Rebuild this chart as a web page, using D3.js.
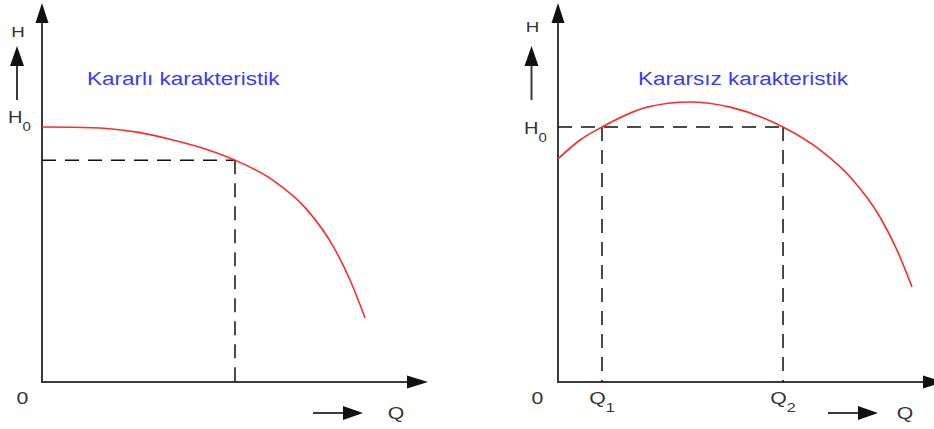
<!DOCTYPE html>
<html>
<head>
<meta charset="utf-8">
<script src="https://cdn.jsdelivr.net/npm/d3@7"></script>
<style>
  body { margin: 0; background: #fff; }
  svg { display: block; }
  text { font-family: "Liberation Sans", Arial, Helvetica, sans-serif; fill: #333; }
</style>
</head>
<body>
<svg id="chart" width="934" height="429"></svg>
<script>
// Pump head curves H(Q), in relative units (H0 = 100)
const titles = ["Kararlı karakteristik", "Kararsız karakteristik"];

const stableQ = [0, 8, 16.8, 25.4, 33.9, 42.7, 50, 59.8, 68.7, 75.4, 79.8, 83.7];
const stableH = [100, 99.9, 99.4, 97.8, 94.9, 91.2, 87, 79.2, 67.5, 53.3, 40.0, 25.1];

const unstableQ = [0, 5.7, 11.4, 23.1, 34, 44.6, 58.3, 67.9, 76.4, 83.4, 87.8, 91.7];
const unstableH = [87.5, 94.9, 100, 107.8, 109.8, 107.8, 100, 91.0, 79.2, 64.7, 51.8, 37.3];

// Operating points marked by dashed guides
const stableOpQ = [50];
const stableOpH = 87;
const unstableOpQ = [11.4, 58.3];
const unstableOpH = 100;
const unstableOpLabels = ["1", "2"];

const svg = d3.select("#chart");

const panels = [
  { title: titles[0], Q: stableQ, H: stableH, opQ: stableOpQ, opH: stableOpH, opLabels: null,
    ox: 42, titleX: 87, hY: 37, h0Y: 123, smallX: 17, qArrow: [313, 363], qX: 396, zeroX: 22.5 },
  { title: titles[1], Q: unstableQ, H: unstableH, opQ: unstableOpQ, opH: unstableOpH, opLabels: unstableOpLabels,
    ox: 558, titleX: 638, hY: 32, h0Y: 134, smallX: 531.5, qArrow: [828, 878], qX: 905, zeroX: 537.5 }
];

const oy = 382;
const axisColor = "#3a3a3a";
const stretch = 1.25; // wide lettering

function arrowHead(g, tipX, tipY, dir, len, half) {
  let pts;
  if (dir === "up") pts = [[tipX, tipY], [tipX - half, tipY + len], [tipX + half, tipY + len]];
  else pts = [[tipX, tipY], [tipX - len, tipY - half], [tipX - len, tipY + half]];
  g.append("path").attr("d", d3.line()(pts) + "Z").attr("fill", "#111");
}

function label(g, x, y, size, anchor) {
  return g.append("g").attr("transform", `translate(${x},${y}) scale(${stretch},1)`)
    .append("text").attr("text-anchor", anchor || "start").attr("font-size", size);
}

panels.forEach(p => {
  const x = d3.scaleLinear().domain([0, 100]).range([p.ox, p.ox + 386]);
  const y = d3.scaleLinear().domain([0, 100]).range([oy, 127]);
  const g = svg.append("g");

  const hTop = y.invert(3);
  const qTop = 100;

  // axes
  g.append("line").attr("x1", x(0)).attr("y1", y(0)).attr("x2", x(0)).attr("y2", y(hTop) + 12)
    .attr("stroke", axisColor).attr("stroke-width", 2);
  arrowHead(g, x(0), y(hTop), "up", 20, 6.5);
  g.append("line").attr("x1", x(0) - 1).attr("y1", y(0)).attr("x2", x(qTop) - 12).attr("y2", y(0))
    .attr("stroke", axisColor).attr("stroke-width", 2);
  arrowHead(g, x(qTop), y(0), "right", 21, 6.5);

  // dashed guides to operating points
  const dash = "14,9";
  const maxOp = d3.max(p.opQ);
  g.append("line").attr("x1", x(0)).attr("y1", y(p.opH)).attr("x2", x(maxOp)).attr("y2", y(p.opH))
    .attr("stroke", "#111").attr("stroke-width", 1.5).attr("stroke-dasharray", dash);
  p.opQ.forEach(q => {
    g.append("line").attr("x1", x(q)).attr("y1", y(p.opH)).attr("x2", x(q)).attr("y2", y(0))
      .attr("stroke", "#111").attr("stroke-width", 1.5).attr("stroke-dasharray", dash);
  });

  // head curve
  const pts = p.Q.map((q, i) => [q, p.H[i]]);
  g.append("path")
    .attr("d", d3.line().x(d => x(d[0])).y(d => y(d[1])).curve(d3.curveMonotoneX)(pts))
    .attr("fill", "none").attr("stroke", "#ff2a2a").attr("stroke-width", 1.6);

  // title
  label(g, p.titleX, 85, 18).style("fill", "#3a3aff").text(p.title);

  // H label and small upward arrow
  label(g, p.smallX + 1, p.hY, 15, "middle").text("H");
  g.append("line").attr("x1", p.smallX).attr("y1", 100).attr("x2", p.smallX).attr("y2", 60)
    .attr("stroke", axisColor).attr("stroke-width", 2);
  arrowHead(g, p.smallX, 46, "up", 20, 7);

  // H0 label
  const h0 = label(g, p.ox - 34, p.h0Y, 16);
  h0.append("tspan").text("H");
  h0.append("tspan").attr("font-size", 12).attr("dy", 8).text("0");

  // origin
  label(g, p.zeroX, 404, 17, "middle").text("0");

  // Q label with arrow
  g.append("line").attr("x1", p.qArrow[0]).attr("y1", 413).attr("x2", p.qArrow[1] - 12).attr("y2", 413)
    .attr("stroke", axisColor).attr("stroke-width", 2);
  arrowHead(g, p.qArrow[1], 413, "right", 20, 7);
  label(g, p.qX, 419, 17, "middle").text("Q");

  // operating point labels on Q axis
  if (p.opLabels) {
    p.opQ.forEach((q, i) => {
      const t = label(g, x(q), 404, 17, "middle");
      t.append("tspan").text("Q");
      t.append("tspan").attr("font-size", 13).attr("dy", 8).text(p.opLabels[i]);
    });
  }
});
</script>
</body>
</html>
